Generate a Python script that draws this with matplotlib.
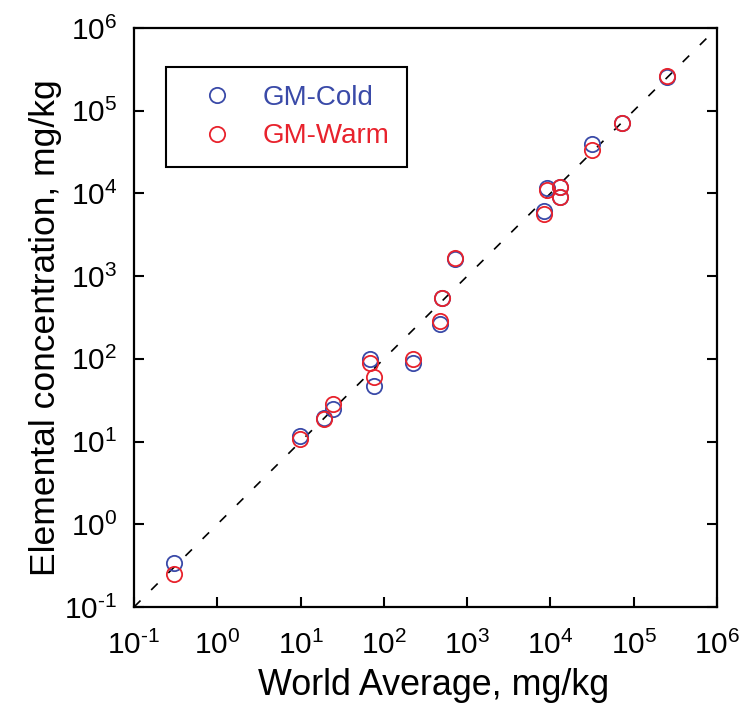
import matplotlib
matplotlib.use("Agg")
import matplotlib.pyplot as plt
from matplotlib.lines import Line2D

plt.rcParams['font.family'] = ['Liberation Sans', 'DejaVu Sans']
plt.rcParams['mathtext.fontset'] = 'custom'
plt.rcParams['mathtext.rm'] = 'Liberation Sans'
plt.rcParams['mathtext.it'] = 'Liberation Sans'
plt.rcParams['mathtext.default'] = 'regular'

# World average (x) and measured concentrations (y), mg/kg
world_avg = [0.30, 9.8, 19.3, 24.2, 68, 77, 225, 471, 502, 713,
             8430, 9000, 13000, 13000, 31800, 72800, 252000]
gm_cold = [0.34, 11.8, 19.5, 24.6, 99, 47.5, 88.5, 264, 550, 1600,
           6200, 11750, 12100, 9150, 40000, 71800, 254000]
gm_warm = [0.25, 10.8, 18.9, 28.5, 88.5, 61, 99, 290, 550, 1660,
           5600, 11000, 12100, 9150, 33600, 71800, 266000]

series_labels = ['GM-Cold', 'GM-Warm']
tick_exponents = [-1, 0, 1, 2, 3, 4, 5, 6]
tick_labels = ['10$^{%s}$' % ('\\text{-}1' if e < 0 else str(e))
               for e in tick_exponents]

blue = '#3a4aa8'
red = '#e8222c'

fig = plt.figure(figsize=(7.40, 7.04), dpi=100)
ax = fig.add_axes([134/740, (704-607)/704, 583/740, 579/704])

lims = [0.1, 1e6]
ax.plot(lims, lims, color='black', lw=1.2, dashes=(5.5, 9), zorder=1)

ax.plot(world_avg, gm_cold, linestyle='none', marker='o', ms=11,
        mfc='none', mec=blue, mew=1.3, zorder=2)
ax.plot(world_avg, gm_warm, linestyle='none', marker='o', ms=11,
        mfc='none', mec=red, mew=1.3, zorder=3)

ax.set_xscale('log')
ax.set_yscale('log')
ax.set_xlim(lims)
ax.set_ylim(lims)
ticks = [10.0 ** e for e in tick_exponents]
ax.set_xticks(ticks)
ax.set_xticklabels(tick_labels)
ax.set_yticks(ticks)
ax.set_yticklabels(tick_labels)
ax.minorticks_off()
ax.tick_params(which='both', direction='in', length=7, width=1.5,
               labelsize=21.5, top=False, right=True)
ax.tick_params(axis='x', pad=17)
ax.tick_params(axis='y', pad=12)

for sp in ax.spines.values():
    sp.set_linewidth(1.6)

ax.set_xlabel('World Average, mg/kg', fontsize=25.8)
ax.set_ylabel('Elemental concentration, mg/kg', fontsize=25.5)
ax.xaxis.set_label_coords(0.514, -0.105)
ax.yaxis.set_label_coords(-0.124, 0.482)

handles = [Line2D([], [], linestyle='none', marker='o', ms=11, mfc='none',
                  mec=blue, mew=1.3),
           Line2D([], [], linestyle='none', marker='o', ms=11, mfc='none',
                  mec=red, mew=1.3)]
leg = ax.legend(handles, series_labels, loc='upper left',
                bbox_to_anchor=((166-134)/583, (607-66.7)/579),
                borderaxespad=0, fontsize=20, frameon=True, fancybox=False,
                edgecolor='black', framealpha=1, borderpad=0.65,
                handlelength=2.4, handletextpad=0.42, labelspacing=0.45)
leg.get_frame().set_linewidth(1.5)
leg.texts[0].set_color(blue)
leg.texts[1].set_color(red)

fig.savefig('out.png', dpi=100)
